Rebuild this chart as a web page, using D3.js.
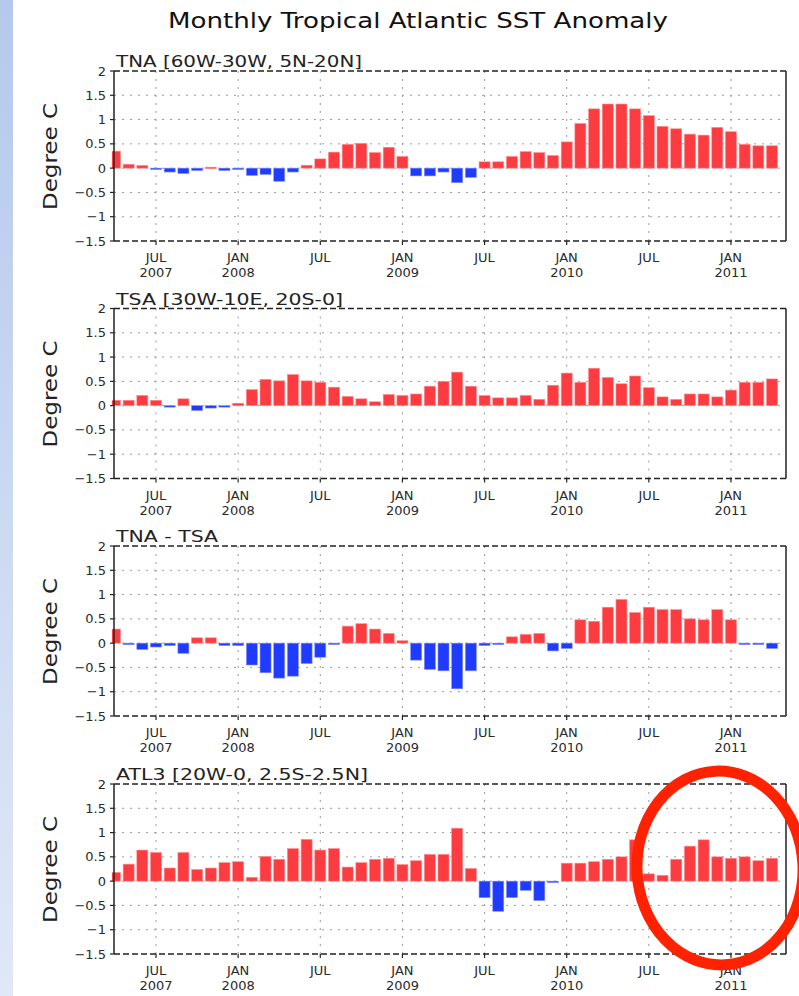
<!DOCTYPE html>
<meta charset="utf-8">
<style>
    body {
        margin: 0;
        padding: 0;
        background: #fff;
        font-family: "DejaVu Sans", "Liberation Sans", sans-serif;
    }

    svg {
        display: block;
    }

    .grid line {
        stroke: #9a9a9a;
        stroke-width: 1;
        stroke-dasharray: 2, 6;
    }

    .frame line {
        stroke: #222;
    }

    .ylab, .xlab {
        font-size: 13px;
        fill: #2a2a2a;
    }
</style>
<svg width="799" height="996"></svg>
<script src="https://d3js.org/d3.v7.min.js"></script>
<script>
    // months from APR 2007 (index 0) to APR 2011 (index 48)
    var tickMonths = [3, 9, 15, 21, 27, 33, 39, 45];
    var tickNames = ["JUL", "JAN", "JUL", "JAN", "JUL", "JAN", "JUL", "JAN"];
    var tickYears = ["2007", "2008", "", "2009", "", "2010", "", "2011"];
    var yTicks = [2, 1.5, 1, 0.5, 0, -0.5, -1, -1.5];

    var tna = [0.35, 0.08, 0.055, -0.03, -0.08, -0.11, -0.05, 0.02, -0.05, -0.03,
        -0.15, -0.13, -0.27, -0.08, 0.06, 0.19, 0.33, 0.49, 0.51, 0.32,
        0.43, 0.24, -0.16, -0.16, -0.08, -0.30, -0.19, 0.13, 0.13, 0.24,
        0.34, 0.32, 0.26, 0.54, 0.92, 1.22, 1.32, 1.32, 1.22, 1.08,
        0.86, 0.81, 0.70, 0.68, 0.84, 0.75, 0.49, 0.46, 0.46];

    var tsa = [0.11, 0.11, 0.21, 0.11, -0.02, 0.14, -0.10, -0.05, -0.01, 0.05,
        0.33, 0.54, 0.51, 0.64, 0.51, 0.48, 0.38, 0.19, 0.14, 0.08,
        0.23, 0.21, 0.24, 0.40, 0.50, 0.69, 0.40, 0.21, 0.16, 0.16,
        0.21, 0.13, 0.42, 0.67, 0.48, 0.77, 0.58, 0.45, 0.61, 0.37,
        0.18, 0.13, 0.24, 0.24, 0.18, 0.32, 0.48, 0.48, 0.55];

    var tnaMinusTsa = [0.29, -0.02, -0.13, -0.08, -0.05, -0.21, 0.11, 0.11, -0.05, -0.05,
        -0.45, -0.61, -0.72, -0.68, -0.42, -0.29, -0.02, 0.35, 0.40, 0.29,
        0.20, 0.05, -0.35, -0.54, -0.57, -0.94, -0.57, -0.05, -0.03, 0.13,
        0.18, 0.20, -0.16, -0.11, 0.48, 0.45, 0.74, 0.90, 0.63, 0.74,
        0.69, 0.69, 0.50, 0.48, 0.69, 0.48, -0.01, -0.01, -0.11];

    var atl3 = [0.18, 0.35, 0.64, 0.59, 0.27, 0.59, 0.24, 0.27, 0.38, 0.40,
        0.08, 0.51, 0.45, 0.67, 0.86, 0.64, 0.67, 0.29, 0.38, 0.45,
        0.47, 0.34, 0.42, 0.55, 0.55, 1.09, 0.26, -0.34, -0.62, -0.34,
        -0.19, -0.40, -0.01, 0.37, 0.37, 0.40, 0.45, 0.50, 0.85, 0.15,
        0.12, 0.45, 0.72, 0.85, 0.50, 0.47, 0.50, 0.42, 0.47];

    var panelTitles = ["TNA [60W-30W, 5N-20N]", "TSA [30W-10E, 20S-0]", "TNA - TSA", "ATL3 [20W-0, 2.5S-2.5N]"];
    var panelTitleWidths = [246, 227, 102, 252];
    var panelSeries = [tna, tsa, tnaMinusTsa, atl3];
    var panelTops = [71, 308.5, 546, 784];

    var svg = d3.select("svg");
    var left = 114, right = 786, plotH = 170;

    // light blue strip on the left
    var defs = svg.append("defs");
    var grad = defs.append("linearGradient").attr("id", "strip")
        .attr("x1", 0).attr("y1", 0).attr("x2", 0).attr("y2", 1);
    grad.append("stop").attr("offset", "0%").attr("stop-color", "#b5c9ec");
    grad.append("stop").attr("offset", "100%").attr("stop-color", "#e0e8f6");
    svg.append("rect").attr("x", 0).attr("y", 0).attr("width", 13).attr("height", 996)
        .attr("fill", "url(#strip)");

    svg.append("text")
        .attr("x", 168).attr("y", 28)
        .attr("textLength", 500).attr("lengthAdjust", "spacingAndGlyphs")
        .style("font-size", "21px").style("fill", "#111")
        .text("Monthly Tropical Atlantic SST Anomaly");

    var x = d3.scaleLinear().domain([-0.07, 49.02]).range([left, right]);
    var barW = 11;

    panelSeries.forEach(function(values, p) {
        var top = panelTops[p];
        var y = d3.scaleLinear().domain([-1.5, 2]).range([top + plotH, top]);
        var g = svg.append("g");

        defs.append("clipPath").attr("id", "clip" + p)
            .append("rect").attr("x", 112).attr("y", top).attr("width", right - 112).attr("height", plotH);

        // grid
        var grid = g.append("g").attr("class", "grid");
        grid.selectAll(".h").data(yTicks.slice(1, -1)).enter().append("line")
            .attr("x1", left).attr("x2", right)
            .attr("y1", d => y(d)).attr("y2", d => y(d));
        grid.selectAll(".v").data(tickMonths).enter().append("line")
            .attr("x1", d => x(d)).attr("x2", d => x(d))
            .attr("y1", top).attr("y2", top + plotH);

        // bars
        g.append("g").attr("clip-path", "url(#clip" + p + ")")
            .selectAll("rect").data(values).enter().append("rect")
            .attr("x", (d, i) => x(i) - barW / 2)
            .attr("width", barW)
            .attr("y", d => y(Math.max(0, d)))
            .attr("height", d => Math.max(1.5, Math.abs(y(d) - y(0))))
            .attr("fill", d => d >= 0 ? "#fd3c41" : "#1f3bff")
            .attr("stroke", d => d >= 0 ? "#ff8a8c" : "#8090ff")
            .attr("stroke-width", 0.6);

        // frame
        var frame = g.append("g").attr("class", "frame");
        frame.append("line").attr("x1", left).attr("x2", right).attr("y1", top).attr("y2", top)
            .attr("stroke-width", 1.3).attr("stroke-dasharray", "6,3");
        frame.append("line").attr("x1", left).attr("x2", right).attr("y1", top + plotH).attr("y2", top + plotH)
            .attr("stroke-width", 1.3).attr("stroke-dasharray", "6,3");
        frame.append("line").attr("x1", left).attr("x2", left).attr("y1", top).attr("y2", top + plotH)
            .attr("stroke-width", 1.5);
        frame.append("line").attr("x1", right).attr("x2", right).attr("y1", top).attr("y2", top + plotH)
            .attr("stroke-width", 1.5);

        // y ticks and labels
        frame.selectAll(".yt").data(yTicks).enter().append("line")
            .attr("x1", left - 4).attr("x2", left)
            .attr("y1", d => y(d)).attr("y2", d => y(d))
            .attr("stroke-width", 1.2);
        g.selectAll(".ylab").data(yTicks).enter().append("text")
            .attr("class", "ylab")
            .attr("x", 106).attr("y", d => y(d) + 4.5)
            .attr("text-anchor", "end")
            .text(d => d < 0 ? "\u2212" + Math.abs(d) : d);

        // x ticks and labels
        frame.selectAll(".xt").data(tickMonths).enter().append("line")
            .attr("x1", d => x(d)).attr("x2", d => x(d))
            .attr("y1", top + plotH).attr("y2", top + plotH + 4)
            .attr("stroke-width", 1.2);
        g.selectAll(".xn").data(tickMonths).enter().append("text")
            .attr("class", "xlab")
            .attr("x", d => x(d)).attr("y", top + plotH + 21)
            .attr("text-anchor", "middle")
            .text((d, i) => tickNames[i]);
        g.selectAll(".xy").data(tickMonths).enter().append("text")
            .attr("class", "xlab")
            .attr("x", d => x(d)).attr("y", top + plotH + 36)
            .attr("text-anchor", "middle")
            .text((d, i) => tickYears[i]);

        // axis title
        g.append("text")
            .attr("transform", "translate(57," + (top + plotH / 2 - 53) + ") rotate(-90)")
            .attr("text-anchor", "end")
            .attr("textLength", 107).attr("lengthAdjust", "spacingAndGlyphs")
            .style("font-size", "20px").style("fill", "#222")
            .text("Degree C");

        // panel title
        g.append("text")
            .attr("x", 116).attr("y", top - 4)
            .attr("textLength", panelTitleWidths[p]).attr("lengthAdjust", "spacingAndGlyphs")
            .style("font-size", "15px").style("fill", "#222")
            .text(panelTitles[p]);
    });

    // red circle annotation
    svg.append("ellipse")
        .attr("cx", 720).attr("cy", 868)
        .attr("rx", 83).attr("ry", 97)
        .attr("transform", "rotate(-3,720,868)")
        .attr("fill", "none")
        .attr("stroke", "#ff2200")
        .attr("stroke-width", 11);
</script>
